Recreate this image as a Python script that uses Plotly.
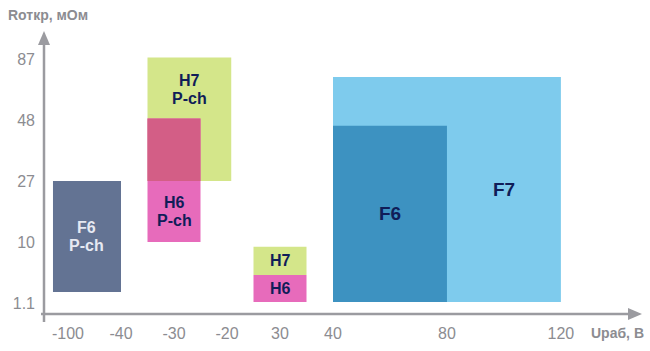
import plotly.graph_objects as go
import numpy as np

# ---------------- data ----------------
x_tick_values = [-100, -40, -30, -20, 30, 40, 80, 120]      # Uраб, В (tick labels)
y_tick_values = [1.1, 10, 27, 48, 87]                       # Rоткр, мОм (tick labels)

devices = ["F6<br>P-ch", "H7<br>P-ch", "H6<br>P-ch", "H7", "H6", "F7", "F6"]
v_min = [-117, -35, -35, 5, 5, 40, 40]
v_max = [-40, -16, -25, 35, 35, 120, 80]
r_min = [2.7, 27, 10, 5.2, 1.25, 1.25, 1.25]
r_max = [27, 88, 49, 9.3, 5.2, 75.5, 46]

# ---------------- style ----------------
fill_colors = ["#637393", "#d4e68a", "#e76bbb", "#d4e68a", "#e76bbb", "#7ecbed", "#3d92c1"]
overlap_color = "#d35e86"
label_colors = ["#e6e9f2", "#101d58", "#101d58", "#101d58", "#101d58", "#101d58", "#101d58"]
label_sizes = [16, 16, 16, 16, 16, 19, 19]
label_fonts = ["Liberation Sans, Arial"] * 5 + ["Liberation Sans Narrow, Arial Narrow, Liberation Sans"] * 2
axis_grey = "#9b9ba0"
text_grey = "#8c8c91"
FONT = "Liberation Sans, Arial"

# piecewise (non-uniform) scales of the original chart: tick value -> slot
X_SLOT = [0, 1, 2, 3, 4, 5, 7.15, 9.3]
Y_SLOT = [0, 1, 2, 3, 4]


def pw(v, vals, slots):
    vals = np.asarray(vals, float)
    slots = np.asarray(slots, float)
    if v < vals[0]:
        return slots[0] + (v - vals[0]) * (slots[1] - slots[0]) / (vals[1] - vals[0])
    if v > vals[-1]:
        return slots[-1] + (v - vals[-1]) * (slots[-1] - slots[-2]) / (vals[-1] - vals[-2])
    return float(np.interp(v, vals, slots))


def xs(v):
    return pw(v, x_tick_values, X_SLOT)


def ys(v):
    return pw(v, y_tick_values, Y_SLOT)


W, H = 650, 351
ML, MR, MT, MB = 44, 10, 33, 37
PW, PH = W - ML - MR, H - MT - MB

fig = go.Figure()
fig.add_trace(go.Scatter(x=[None], y=[None], showlegend=False))

shapes = []
for i in range(len(devices)):
    shapes.append(dict(type="rect", xref="x", yref="y",
                       x0=xs(v_min[i]), x1=xs(v_max[i]),
                       y0=ys(r_min[i]), y1=ys(r_max[i]),
                       fillcolor=fill_colors[i], line=dict(width=0), layer="above"))
    if i == 2:
        # overlap of H6 P-ch with H7 P-ch
        ox0, ox1 = max(v_min[1], v_min[2]), min(v_max[1], v_max[2])
        oy0, oy1 = max(r_min[1], r_min[2]), min(r_max[1], r_max[2])
        shapes.append(dict(type="rect", xref="x", yref="y",
                           x0=xs(ox0), x1=xs(ox1), y0=ys(oy0), y1=ys(oy1),
                           fillcolor=overlap_color, line=dict(width=0), layer="above"))


def px2paper_x(px):
    return (px - ML) / PW


def px2paper_y(py):
    return (H - MB - py) / PH


# axis lines with arrows
shapes.append(dict(type="line", xref="paper", yref="paper",
                   x0=px2paper_x(41), x1=px2paper_x(632), y0=0, y1=0,
                   line=dict(color=axis_grey, width=2.5)))
shapes.append(dict(type="line", xref="paper", yref="paper",
                   x0=0, x1=0, y0=px2paper_y(322), y1=px2paper_y(40),
                   line=dict(color=axis_grey, width=2.5)))
shapes.append(dict(type="path", xref="paper", yref="paper",
                   path=f"M {px2paper_x(642)} {px2paper_y(314)} L {px2paper_x(628)} {px2paper_y(308)} "
                        f"L {px2paper_x(628)} {px2paper_y(320)} Z",
                   fillcolor=axis_grey, line=dict(width=0)))
shapes.append(dict(type="path", xref="paper", yref="paper",
                   path=f"M {px2paper_x(44)} {px2paper_y(31)} L {px2paper_x(38)} {px2paper_y(45)} "
                        f"L {px2paper_x(50)} {px2paper_y(45)} Z",
                   fillcolor=axis_grey, line=dict(width=0)))

annotations = []
for i, name in enumerate(devices):
    x0, x1 = xs(v_min[i]), xs(v_max[i])
    y0, y1 = ys(r_min[i]), ys(r_max[i])
    if name == "H7<br>P-ch":
        y0 = ys(r_max[2])
    if name == "H6<br>P-ch":
        y1 = ys(r_min[1])
    if name == "F7":
        x0 = xs(v_max[6])
    lines = name.split("<br>")
    n = len(lines)
    for k, line in enumerate(lines):
        shift = (n - 1) * 9 - k * 18
        annotations.append(dict(x=(x0 + x1) / 2, y=(y0 + y1) / 2, xref="x", yref="y",
                                yshift=shift - (2 if name == "H7<br>P-ch" else 0),
                                text=f"<b>{line}</b>", showarrow=False,
                                font=dict(family=label_fonts[i], size=label_sizes[i],
                                          color=label_colors[i])))

annotations.append(dict(x=px2paper_x(6), y=px2paper_y(15), xref="paper", yref="paper",
                        xanchor="left", yanchor="middle", showarrow=False,
                        text="<b>Rоткр, мОм</b>",
                        font=dict(family=FONT, size=14, color=text_grey)))
annotations.append(dict(x=px2paper_x(646), y=px2paper_y(333), xref="paper", yref="paper",
                        xanchor="right", yanchor="middle", showarrow=False,
                        text="<b>Uраб, В</b>",
                        font=dict(family=FONT, size=14, color=text_grey)))

# axis ranges in slot units so the ticks land where the original put them
x_range = [(ML - 68) / 53, (ML + PW - 68) / 53]
y_range = [(303 - (H - MB)) / 61, (303 - MT) / 61]

fig.update_layout(
    width=W, height=H,
    margin=dict(l=ML, r=MR, t=MT, b=MB, pad=0),
    paper_bgcolor="white", plot_bgcolor="white",
    showlegend=False,
    shapes=shapes, annotations=annotations,
    xaxis=dict(range=x_range, tickvals=[xs(v) for v in x_tick_values],
               ticktext=[str(v) for v in x_tick_values],
               showgrid=False, zeroline=False, showline=False, ticks="",
               ticklabelstandoff=8,
               tickfont=dict(family=FONT, size=16, color=text_grey)),
    yaxis=dict(range=y_range, tickvals=[ys(v) for v in y_tick_values],
               ticktext=[str(v) for v in y_tick_values],
               showgrid=False, zeroline=False, showline=False, ticks="",
               ticklabelstandoff=8,
               tickfont=dict(family=FONT, size=16, color=text_grey)),
)

fig.write_html("out.html")
